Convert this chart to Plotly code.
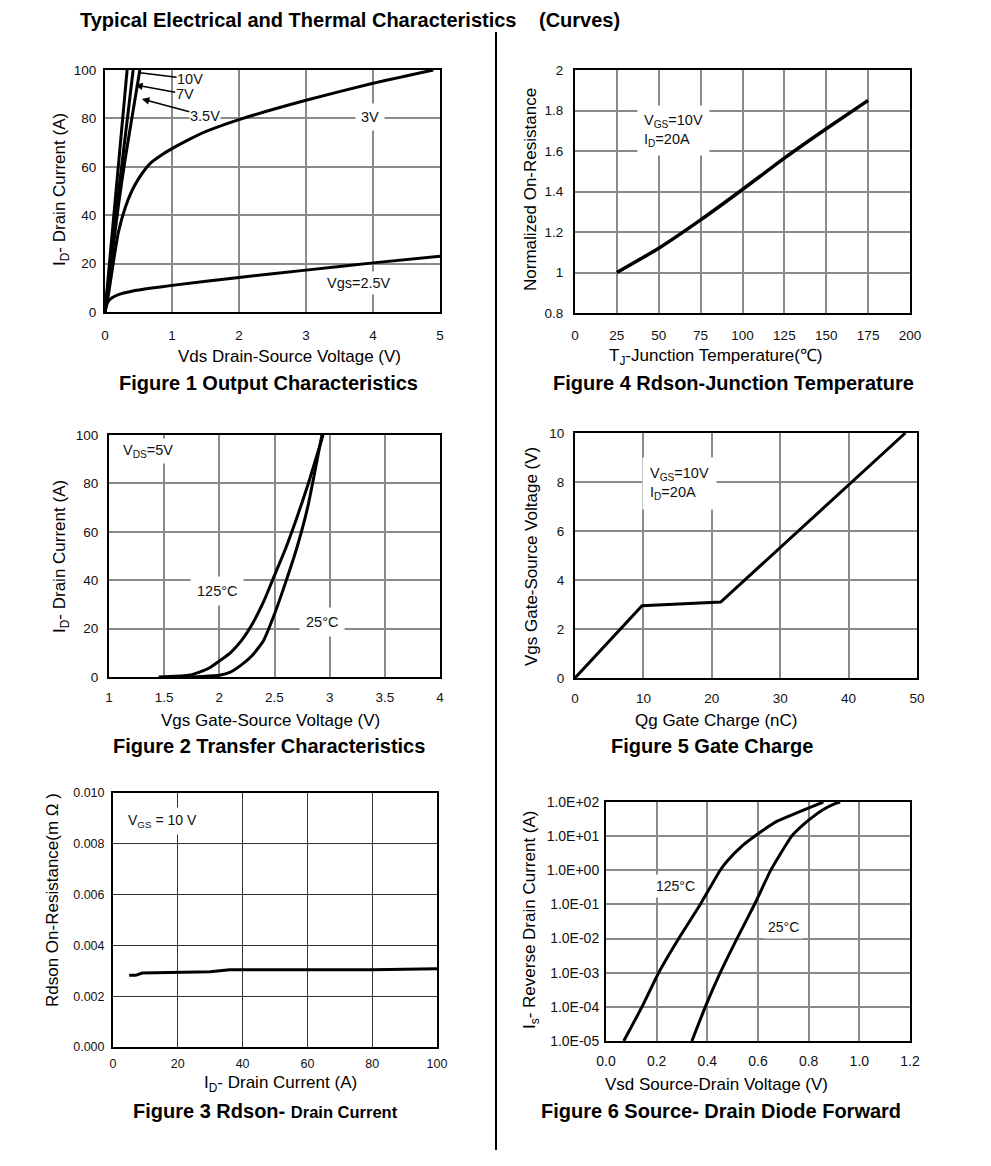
import plotly.graph_objects as go

W, H = 991, 1166
OFF = 8  # page body margin of the browser
FONT = "Liberation Sans, Arial, sans-serif"

# ---------------- data ----------------
# Figure 1 Output Characteristics
f1_vds_10v = [0, 0.1, 0.2, 0.33]
f1_id_10v = [0, 31, 61, 100]
f1_vds_7v = [0, 0.1, 0.2, 0.3, 0.42]
f1_id_7v = [0, 25, 49, 72, 100]
f1_vds_35v = [0, 0.1, 0.2, 0.3, 0.4, 0.52]
f1_id_35v = [0, 22, 44, 63, 80, 100]
f1_vds_3v = [0, 0.05, 0.1, 0.15, 0.2, 0.3, 0.4, 0.5, 0.6, 0.7, 0.85, 1.0, 1.2, 1.5, 2, 3, 4, 4.9]
f1_id_3v = [0, 7, 16, 25, 33, 43, 50, 55, 59, 62, 65, 67.5, 70.5, 74.5, 79.5, 87.5, 94.5, 100]
f1_vds_25v = [0, 0.02, 0.05, 0.1, 0.2, 0.4, 0.7, 1, 2, 3, 4, 5]
f1_id_25v = [0, 2.5, 4.5, 5.8, 7.2, 8.6, 9.9, 11.0, 14.3, 17.3, 20.3, 23.0]

# Figure 4 Rdson-Junction Temperature
f4_tj = [25, 50, 75, 100, 125, 150, 175]
f4_rn = [1.0, 1.12, 1.26, 1.41, 1.565, 1.71, 1.85]

# Figure 2 Transfer Characteristics
f2_vgs_125 = [1.45, 1.6, 1.76, 1.9, 2.0, 2.1, 2.2, 2.3, 2.4, 2.5, 2.6, 2.7, 2.8, 2.94]
f2_id_125 = [0, 0.3, 1.1, 3.5, 6.6, 10, 15, 22, 31, 42, 53, 65.5, 79, 100]
f2_vgs_25 = [1.7, 1.85, 2.0, 2.1, 2.2, 2.3, 2.4, 2.5, 2.6, 2.7, 2.8, 2.93]
f2_id_25 = [0, 0.2, 0.7, 2, 5, 9, 15, 26, 39, 53, 70, 100]

# Figure 5 Gate Charge
f5_qg = [0, 9.8, 21.3, 48.3]
f5_vgs = [0, 2.95, 3.1, 10]

# Figure 3 Rdson - Drain Current
f3_id = [5, 7, 9, 20, 30, 36, 60, 80, 100]
f3_rds = [0.00282, 0.00282, 0.00291, 0.00295, 0.00296, 0.00304, 0.00304, 0.00304, 0.00308]

# Figure 6 Source-Drain Diode Forward
f6_vsd_125 = [0.07, 0.142, 0.208, 0.287, 0.372, 0.451, 0.477, 0.543, 0.595, 0.674, 0.753, 0.806, 0.858]
f6_is_125 = [1e-5, 1e-4, 1e-3, 1e-2, 1e-1, 1, 1.8, 5.6, 11, 27, 48, 70, 100]
f6_vsd_25 = [0.339, 0.392, 0.451, 0.517, 0.589, 0.648, 0.687, 0.733, 0.78, 0.819, 0.858, 0.904, 0.924]
f6_is_25 = [1e-5, 1e-4, 1e-3, 1e-2, 0.11, 0.93, 2.9, 10, 22, 38, 60, 89, 100]
f6_ticks = [1e-5, 1e-4, 1e-3, 1e-2, 1e-1, 1, 10, 100]
f6_ticktext = ["1.0E-05", "1.0E-04", "1.0E-03", "1.0E-02", "1.0E-01", "1.0E+00", "1.0E+01", "1.0E+02"]


def px_x(p):
    return (p - OFF) / W


def px_y(p):
    return 1 - (p - OFF) / H


fig = go.Figure()


def add(x, y, n, w=3, smooth=True):
    xa = "x" if n == 1 else f"x{n}"
    ya = "y" if n == 1 else f"y{n}"
    line = dict(color="black", width=w)
    if smooth:
        line.update(shape="spline", smoothing=0.5)
    fig.add_trace(go.Scatter(x=x, y=y, mode="lines", line=line,
                             xaxis=xa, yaxis=ya, showlegend=False, hoverinfo="skip"))


add(f1_vds_10v, f1_id_10v, 1, smooth=False)
add(f1_vds_7v, f1_id_7v, 1, smooth=False)
add(f1_vds_35v, f1_id_35v, 1)
add(f1_vds_3v, f1_id_3v, 1)
add(f1_vds_25v, f1_id_25v, 1)
add(f4_tj, f4_rn, 2, w=3.5)
add(f2_vgs_125, f2_id_125, 3)
add(f2_vgs_25, f2_id_25, 3)
add(f5_qg, f5_vgs, 4, smooth=False)
add(f3_id, f3_rds, 5, smooth=False)
add(f6_vsd_125, f6_is_125, 6)
add(f6_vsd_25, f6_is_25, 6)

# plot area boxes in pixel coordinates (left, right, top, bottom)
boxes = {
    1: (105, 440, 70, 312),
    2: (575, 910, 70, 313),
    3: (109, 440, 435, 677),
    4: (575, 917, 433, 678),
    5: (113, 437, 793, 1047),
    6: (606, 910, 802, 1041),
}


def tf(size):
    return dict(family=FONT, size=size, color="#111")


def axes(n, xr, xd, yr, yd, grid="#8a8a8a", gw=2, fs=13.5, xfmt=None, yfmt=None,
         ylog=False, xstand=9, ystand=4):
    l, r, t, b = boxes[n]
    sx = "" if n == 1 else str(n)
    xa = dict(domain=[px_x(l), px_x(r)], range=xr, dtick=xd, tick0=xr[0], anchor="y" + sx,
              showline=True, mirror=True, linecolor="black", linewidth=2,
              showgrid=True, gridcolor=grid, gridwidth=gw, zeroline=False, automargin=False,
              ticks="", tickfont=tf(fs), ticklabelstandoff=xstand, fixedrange=True)
    ya = dict(domain=[px_y(b), px_y(t)], range=yr, anchor="x" + sx,
              showline=True, mirror=True, linecolor="black", linewidth=2,
              showgrid=True, gridcolor=grid, gridwidth=gw, zeroline=False, automargin=False,
              ticks="", tickfont=tf(fs), ticklabelstandoff=ystand, fixedrange=True)
    if ylog:
        ya.update(type="log", tickvals=f6_ticks, ticktext=f6_ticktext)
    else:
        ya.update(dtick=yd, tick0=yr[0])
    if xfmt:
        xa["tickformat"] = xfmt
    if yfmt:
        ya["tickformat"] = yfmt
    fig.update_layout(**{"xaxis" + sx: xa, "yaxis" + sx: ya})


axes(1, [0, 5], 1, [0, 100], 20, xstand=10, ystand=4)
axes(2, [0, 200], 25, [0.8, 2], 0.2, xstand=9, ystand=7)
axes(3, [1, 4], 0.5, [0, 100], 20, xstand=7, ystand=6)
axes(4, [0, 50], 10, [0, 10], 2, xstand=7, ystand=6)
axes(5, [0, 100], 20, [0, 0.010], 0.002, grid="#333333", gw=1, fs=12.5,
     yfmt=".3f", xstand=4, ystand=4)
axes(6, [0, 1.2], 0.2, [-5, 2], None, fs=14, xfmt=".1f", ylog=True, xstand=6, ystand=2)

ann = []


def ptext(text, x, y, size=17, bold=False, angle=0, xanchor="center"):
    if bold:
        text = "<b>" + text + "</b>"
    ann.append(dict(text=text, x=px_x(x), y=px_y(y), xref="paper", yref="paper",
                    showarrow=False, xanchor=xanchor, yanchor="middle", textangle=angle,
                    font=dict(family=FONT, size=size, color="black")))


# main title
ptext("Typical Electrical and Thermal Characteristics", 78, 20, size=20, bold=True, xanchor="left")
ptext("(Curves)", 537, 20, size=20, bold=True, xanchor="left")

# captions
ptext("Figure 1 Output Characteristics", 268, 383, size=20, bold=True)
ptext("Figure 4 Rdson-Junction Temperature", 733, 383, size=20, bold=True)
ptext("Figure 2 Transfer Characteristics", 269, 746, size=20, bold=True)
ptext("Figure 5 Gate Charge", 712, 746, size=20, bold=True)
ptext("Figure 3 Rdson- <span style='font-size:16.5px'>Drain Current</span>", 265, 1111,
      size=20, bold=True)
ptext("Figure 6 Source- Drain Diode Forward", 721, 1111, size=20, bold=True)

# axis titles
ptext("Vds Drain-Source Voltage (V)", 289, 357)
ptext("I<sub>D</sub>- Drain Current (A)", 61, 190, angle=-90)
ptext("T<sub>J</sub>-Junction Temperature(℃)", 716, 357)
ptext("Normalized On-Resistance", 531, 190, angle=-90)
ptext("Vgs Gate-Source Voltage (V)", 270, 720)
ptext("I<sub>D</sub>- Drain Current (A)", 61, 557, angle=-90)
ptext("Qg Gate Charge (nC)", 716, 720)
ptext("Vgs Gate-Source Voltage (V)", 531, 557, angle=-90)
ptext("I<sub>D</sub>- Drain Current (A)", 280, 1084)
ptext("Rdson On-Resistance(m Ω )", 52, 900, angle=-90)
ptext("Vsd Source-Drain Voltage (V)", 716, 1084)
ptext("I<sub>s</sub>- Reverse Drain Current (A)", 531, 920, angle=-90)


def dtext(text, x, y, n, size=14.5, bg="white", pad=3, align="center"):
    sx = "" if n == 1 else str(n)
    ann.append(dict(text=text, x=x, y=y, xref="x" + sx, yref="y" + sx, showarrow=False,
                    bgcolor=bg, borderpad=pad, align=align,
                    font=dict(family=FONT, size=size, color="#111")))


def arrow(text, hx, hy, tx, ty, head, bg="rgba(0,0,0,0)"):
    ann.append(dict(text=text, x=hx, y=hy, ax=tx, ay=ty, xref="x", yref="y", axref="x", ayref="y",
                    showarrow=True, arrowhead=head, arrowsize=1, arrowwidth=1.5, arrowcolor="black",
                    bgcolor=bg, borderpad=0, font=dict(family=FONT, size=14.5, color="#111")))


# figure 1 labels
arrow("10V", 0.52, 98.9, 1.27, 96.3, 0)
arrow("7V", 0.45, 93.8, 1.19, 90.1, 2)
arrow("3.5V", 0.55, 88, 1.49, 81, 2, bg="white")
dtext("3V", 3.95, 80.5, 1, pad=5)
dtext("Vgs=2.5V", 3.79, 12, 1)

# figure 4 label
dtext("V<sub>GS</sub>=10V<br>I<sub>D</sub>=20A", 59, 1.70, 2, pad=6, align="left")

# figure 2 labels
dtext("V<sub>DS</sub>=5V", 1.35, 93.4, 3)
dtext("125°C", 1.98, 35.5, 3, pad=6)
dtext("25°C", 2.93, 22.7, 3, pad=6)

# figure 5 label
dtext("V<sub>GS</sub>=10V<br>I<sub>D</sub>=20A", 15.3, 7.95, 4, pad=7, align="left")

# figure 3 label
dtext("V<sub>GS</sub> = 10 V", 15.4, 0.0089, 5, size=14, pad=4)

# figure 6 labels
dtext("125°C", 0.276, -0.46, 6, size=14)
dtext("25°C", 0.699, -1.66, 6, size=14)

fig.update_layout(
    width=W, height=H, margin=dict(l=0, r=0, t=0, b=0, pad=0, autoexpand=False),
    paper_bgcolor="white", plot_bgcolor="white",
    font=dict(family=FONT, color="black"),
    annotations=ann,
    shapes=[dict(type="line", xref="paper", yref="paper", x0=px_x(496), x1=px_x(496),
                 y0=px_y(32), y1=px_y(1150), line=dict(color="black", width=2))],
    showlegend=False,
)

fig.write_html("out.html")
